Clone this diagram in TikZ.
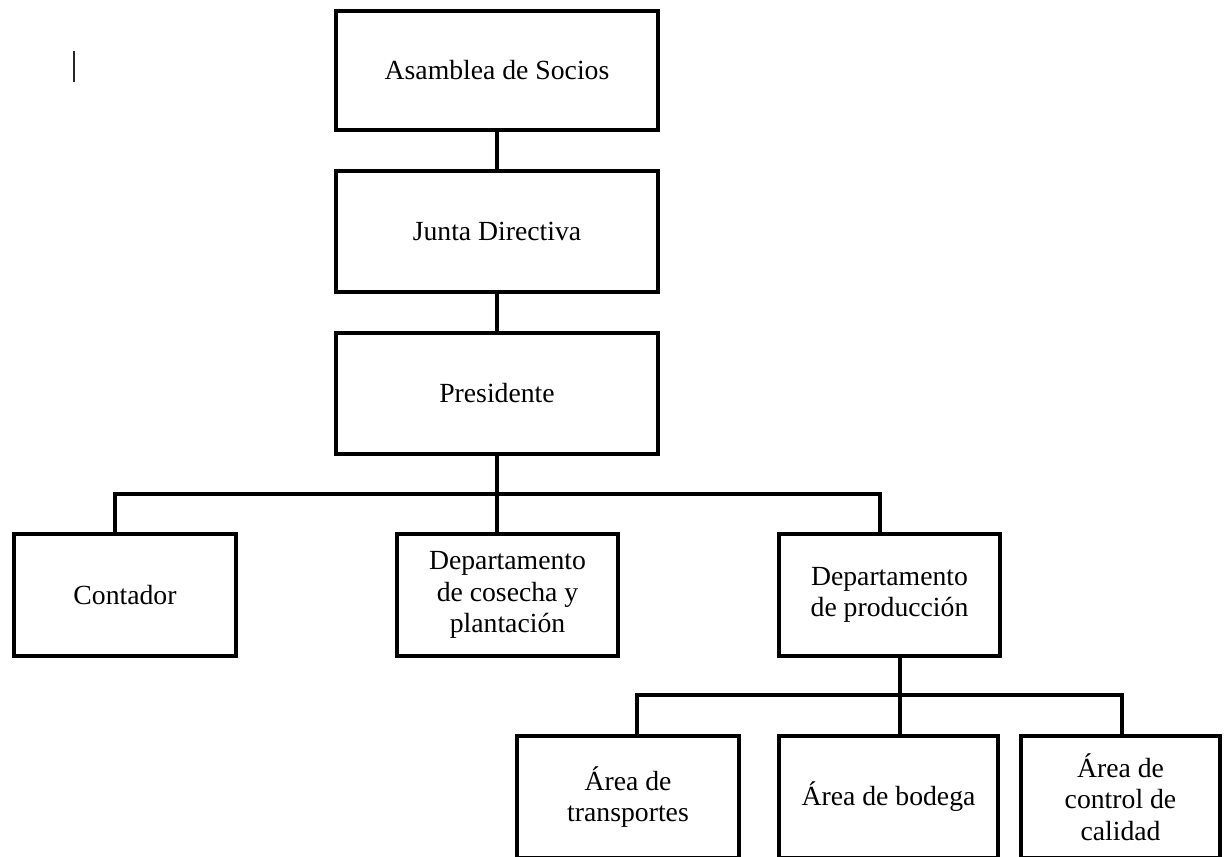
\documentclass[tikz,border=0pt]{standalone}
\usepackage{fontspec}
\setmainfont{Liberation Serif}
\begin{document}
\begin{tikzpicture}[x=1pt,y=-1pt,
  box/.style={draw=black, line width=4pt, inner sep=0pt, align=center,
    font=\fontsize{27.7}{31.5}\selectfont, text=black},
  link/.style={draw=black, line width=4pt}]
\useasboundingbox[fill=white] (0,0) rectangle (1224,857);
% cursor mark
\draw[line width=1.5pt, black!85] (74,51) -- (74,82);
% boxes
\node[box, minimum width=322pt, minimum height=119pt] (asam) at (497,70.5) {Asamblea de Socios};
\node[box, minimum width=322pt, minimum height=121pt] (junta) at (497,231.5) {Junta Directiva};
\node[box, minimum width=322pt, minimum height=121pt] (pres) at (497,393.5) {Presidente};
\node[box, minimum width=222pt, minimum height=122pt] (cont) at (125,595) {Contador};
\node[box, minimum width=221pt, minimum height=122pt] (cos) at (507.5,595) {Departamento\\de cosecha y\\plantación};
\node[box, minimum width=221pt, minimum height=122pt] (prod) at (889.5,595) {Departamento\\de producción};
\node[box, minimum width=222pt, minimum height=122pt] (trans) at (628,797) {Área de\\transportes};
\node[box, minimum width=219pt, minimum height=122pt] (bod) at (888.5,797) {Área de bodega};
\node[box, minimum width=199pt, minimum height=122pt] (cal) at (1120.5,797) {Área de\\control de\\calidad};
% connectors
\draw[link] (asam.south) -- (junta.north);
\draw[link] (junta.south) -- (pres.north);
\coordinate (j1) at (497,494);
\coordinate (bl) at (115,494);
\coordinate (br) at (880,494);
\draw[link] (pres.south) -- (j1) -- (j1 |- cos.north);
\draw[link] (bl |- cont.north) -- (bl) -- (br) -- (br |- prod.north);
\coordinate (k1) at (900,695);
\coordinate (kl) at (637,695);
\coordinate (kr) at (1122,695);
\draw[link] (k1 |- prod.south) -- (k1 |- bod.north);
\draw[link] (kl |- trans.north) -- (kl) -- (kr) -- (kr |- cal.north);
\end{tikzpicture}
\end{document}
